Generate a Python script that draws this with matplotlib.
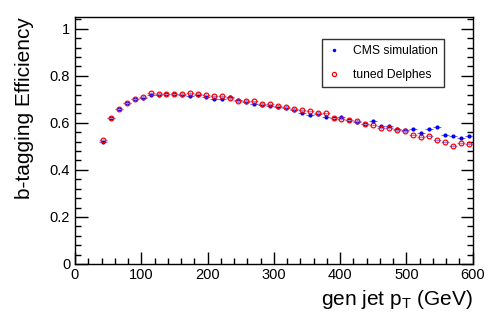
import numpy as np
import matplotlib
matplotlib.use('Agg')
import matplotlib.pyplot as plt
from matplotlib.ticker import MultipleLocator
from matplotlib.lines import Line2D

plt.rcParams['font.family'] = ['Liberation Sans', 'DejaVu Sans']

# bin centres (12 GeV bins)
pt = [42, 54, 66, 78, 90, 102, 114, 126, 138, 150, 162, 174, 186, 198, 210, 222,
      234, 246, 258, 270, 282, 294, 306, 318, 330, 342, 354, 366, 378, 390, 402,
      414, 426, 438, 450, 462, 474, 486, 498, 510, 522, 534, 546, 558, 570, 582, 594]
cms = [0.520, 0.621, 0.661, 0.684, 0.700, 0.707, 0.717, 0.720, 0.722, 0.721, 0.717,
       0.714, 0.718, 0.711, 0.701, 0.703, 0.708, 0.697, 0.687, 0.680, 0.674, 0.670,
       0.666, 0.663, 0.655, 0.642, 0.632, 0.636, 0.623, 0.619, 0.625, 0.611, 0.605,
       0.595, 0.606, 0.587, 0.587, 0.573, 0.568, 0.574, 0.556, 0.575, 0.584, 0.549,
       0.544, 0.536, 0.542]
delphes = [0.529, 0.622, 0.661, 0.684, 0.701, 0.712, 0.728, 0.721, 0.722, 0.722, 0.722,
           0.727, 0.724, 0.720, 0.714, 0.715, 0.706, 0.695, 0.691, 0.691, 0.680, 0.680,
           0.673, 0.666, 0.659, 0.655, 0.649, 0.642, 0.640, 0.619, 0.617, 0.611, 0.606,
           0.595, 0.592, 0.578, 0.577, 0.570, 0.566, 0.550, 0.541, 0.546, 0.527, 0.517,
           0.502, 0.513, 0.508]

fig = plt.figure(figsize=(4.98, 3.16), dpi=100)
ax = fig.add_axes([0.1506, 0.1646, 0.7986, 0.7816])

ax.errorbar(pt, cms, xerr=6, yerr=0.003, fmt='o', color='#0000ff', ms=3, mew=0,
            elinewidth=0.8, ecolor='#7070e0', capsize=0, zorder=3)
ax.errorbar(pt, delphes, xerr=6, yerr=0.003, fmt='o', mfc='none', mec='#ff0000', ms=3.4,
            mew=0.9, elinewidth=0.8, ecolor='#9090e0', capsize=0, zorder=4)

ax.set_xlim(0, 600)
ax.set_ylim(0, 1.05)
ax.xaxis.set_major_locator(MultipleLocator(100))
ax.xaxis.set_minor_locator(MultipleLocator(20))
ax.yaxis.set_minor_locator(MultipleLocator(0.04))
ax.set_yticks([0, 0.2, 0.4, 0.6, 0.8, 1.0])
ax.set_yticklabels(['0', '0.2', '0.4', '0.6', '0.8', '1'])
ax.tick_params(which='both', direction='in', right=True, labelsize=10.5, width=1)
ax.tick_params(which='major', length=9)
ax.tick_params(which='minor', length=4.5)
ax.tick_params(axis='x', pad=3)
for s in ax.spines.values():
    s.set_linewidth(1)

ax.set_xlabel('gen jet p$_\\mathregular{T}$ (GeV)', fontsize=15, ha='right', x=1.0)
ax.set_ylabel('b-tagging Efficiency', fontsize=15, ha='right', y=1.0, labelpad=11)

handles = [Line2D([], [], ls='none', marker='o', color='#0000ff', ms=2.5, mew=0),
           Line2D([], [], ls='none', marker='o', mfc='none', mec='#ff0000', ms=3, mew=0.9)]
leg = ax.legend(handles, ['CMS simulation', 'tuned Delphes'], loc='upper left',
                bbox_to_anchor=(322 / 498, 1 - 39 / 316),
                bbox_transform=fig.transFigure, fontsize=8.7, frameon=True, fancybox=False,
                edgecolor='black', handlelength=1.0, handletextpad=1.1, borderpad=0.5,
                labelspacing=1.0, borderaxespad=0)
leg.get_frame().set_linewidth(1)

fig.savefig('out.png', dpi=100)
